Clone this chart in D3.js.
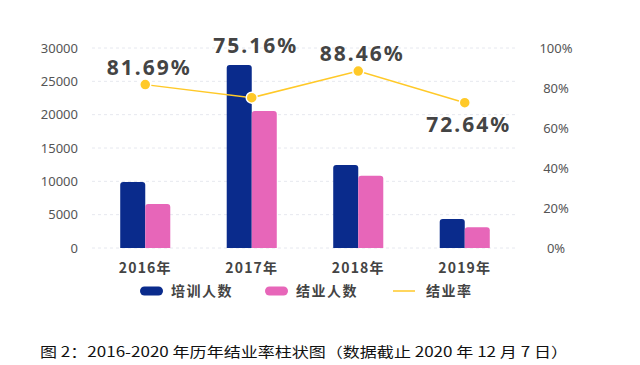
<!DOCTYPE html>
<html>
<head>
<meta charset="utf-8">
<script src="https://cdn.jsdelivr.net/npm/d3@7"></script>
<style>
  body { margin: 0; background: #fff; }
  svg { display: block; }
</style>
</head>
<body>
<div id="chart"></div>
<script>
// data
var years = ["2016年", "2017年", "2018年", "2019年"];
var trained = [9900, 27450, 12450, 4350];
var graduated = [6600, 20550, 10850, 3100];
var rate = [81.69, 75.16, 88.46, 72.64];
var leftTicks = [0, 5000, 10000, 15000, 20000, 25000, 30000];
var rightTicks = [0, 20, 40, 60, 80, 100];

var svgWidth = 640, svgHeight = 365;
var margin = { top: 48, right: 122, bottom: 117, left: 92 };
var width = svgWidth - margin.left - margin.right;
var height = svgHeight - margin.top - margin.bottom;

var blue = "#0a2b8c", pink = "#e766b9", yellow = "#ffc928";

var svg = d3.select("#chart").append("svg")
  .attr("width", svgWidth)
  .attr("height", svgHeight);

var g = svg.append("g")
  .attr("transform", `translate(${margin.left}, ${margin.top})`);

var x = d3.scaleBand().domain(years).range([0, width])
  .paddingInner(0.53).paddingOuter(0.265);
var xSub = d3.scaleBand().domain(["t", "g"]).range([0, x.bandwidth()]);
var yL = d3.scaleLinear().domain([0, 30000]).range([height, 0]);
var yR = d3.scaleLinear().domain([0, 100]).range([height, 0]);

// grid lines
g.selectAll(".grid").data(leftTicks).enter().append("line")
  .attr("x1", 0).attr("x2", width)
  .attr("y1", d => yL(d)).attr("y2", d => yL(d))
  .attr("stroke", "#e6e8ef").attr("stroke-width", 1)
  .attr("stroke-dasharray", "3,3");

// left axis
var leftAxis = d3.axisLeft(yL).tickValues(leftTicks).tickSize(0).tickPadding(14)
  .tickFormat(d3.format("d"));
g.append("g").call(leftAxis)
  .call(a => a.select(".domain").remove())
  .selectAll("text")
  .attr("font-family", "Noto Sans, sans-serif")
  .attr("font-size", 13).attr("fill", "#555");

// right axis
var rightAxis = d3.axisRight(yR).tickValues(rightTicks).tickSize(0)
  .tickFormat(d => d + "%");
g.append("g").attr("transform", `translate(${width + 38}, 0)`).call(rightAxis)
  .call(a => a.select(".domain").remove())
  .selectAll("text")
  .attr("x", 0).attr("text-anchor", "middle")
  .attr("font-family", "Noto Sans, sans-serif")
  .attr("font-size", 13).attr("fill", "#555");

// bars, rounded tops
function barPath(x0, w, yTop, yBot, r) {
  return `M${x0},${yBot} V${yTop + r} Q${x0},${yTop} ${x0 + r},${yTop} H${x0 + w - r} Q${x0 + w},${yTop} ${x0 + w},${yTop + r} V${yBot} Z`;
}
g.selectAll(".barT").data(years).enter().append("path")
  .attr("d", (d, i) => barPath(x(d) + xSub("t"), xSub.bandwidth(), yL(trained[i]), yL(0), 3))
  .attr("fill", blue);
g.selectAll(".barG").data(years).enter().append("path")
  .attr("d", (d, i) => barPath(x(d) + xSub("g"), xSub.bandwidth(), yL(graduated[i]), yL(0), 3))
  .attr("fill", pink);

// x labels
g.selectAll(".xl").data(years).enter().append("text")
  .attr("x", d => x(d) + x.bandwidth() / 2)
  .attr("y", height + 25)
  .attr("text-anchor", "middle")
  .attr("font-family", "Noto Sans CJK SC, sans-serif")
  .attr("font-weight", "bold").attr("font-size", 14)
  .attr("letter-spacing", 1.2).attr("fill", "#444")
  .text(d => d);

// rate line
var line = d3.line()
  .x((d, i) => x(years[i]) + x.bandwidth() / 2)
  .y(d => yR(d));
g.append("path").datum(rate).attr("d", line)
  .attr("fill", "none").attr("stroke", yellow).attr("stroke-width", 1.5);
g.selectAll(".pt").data(rate).enter().append("circle")
  .attr("cx", (d, i) => x(years[i]) + x.bandwidth() / 2)
  .attr("cy", d => yR(d))
  .attr("r", 5.5)
  .attr("fill", yellow).attr("stroke", "#fff").attr("stroke-width", 1.5);

var labelDy = [-10, -45, -10, 29];
g.selectAll(".rl").data(rate).enter().append("text")
  .attr("x", (d, i) => x(years[i]) + x.bandwidth() / 2 + 4)
  .attr("y", (d, i) => yR(d) + labelDy[i])
  .attr("text-anchor", "middle")
  .attr("font-family", "Noto Sans, sans-serif")
  .attr("font-weight", "bold").attr("font-size", 21)
  .attr("letter-spacing", 2).attr("fill", "#444")
  .text(d => d.toFixed(2) + "%");

// legend
var legend = svg.append("g").attr("transform", "translate(0, 291)");
var legendItems = [
  { name: "培训人数", color: blue, type: "bar", x: 140 },
  { name: "结业人数", color: pink, type: "bar", x: 265 },
  { name: "结业率", color: yellow, type: "line", x: 393 }
];
legendItems.forEach(function(it) {
  if (it.type === "bar") {
    legend.append("rect").attr("x", it.x).attr("y", -4.5)
      .attr("width", 23).attr("height", 9).attr("rx", 4.5)
      .attr("fill", it.color);
  } else {
    legend.append("line").attr("x1", it.x).attr("x2", it.x + 22)
      .attr("y1", 0).attr("y2", 0)
      .attr("stroke", it.color).attr("stroke-width", 1.5);
  }
  legend.append("text").attr("x", it.x + (it.type === "bar" ? 31 : 33)).attr("y", 5)
    .attr("font-family", "Noto Sans CJK SC, sans-serif")
    .attr("font-weight", "bold").attr("font-size", 14)
    .attr("letter-spacing", 1.5).attr("fill", "#444")
    .text(it.name);
});

// caption
svg.append("text")
  .attr("x", 40).attr("y", 357)
  .attr("font-family", "Noto Sans CJK SC, sans-serif")
  .attr("font-size", 14).attr("fill", "#111")
  .attr("textLength", 528).attr("lengthAdjust", "spacingAndGlyphs")
  .text("图 2：2016-2020 年历年结业率柱状图（数据截止 2020 年 12 月 7 日）");
</script>
</body>
</html>
